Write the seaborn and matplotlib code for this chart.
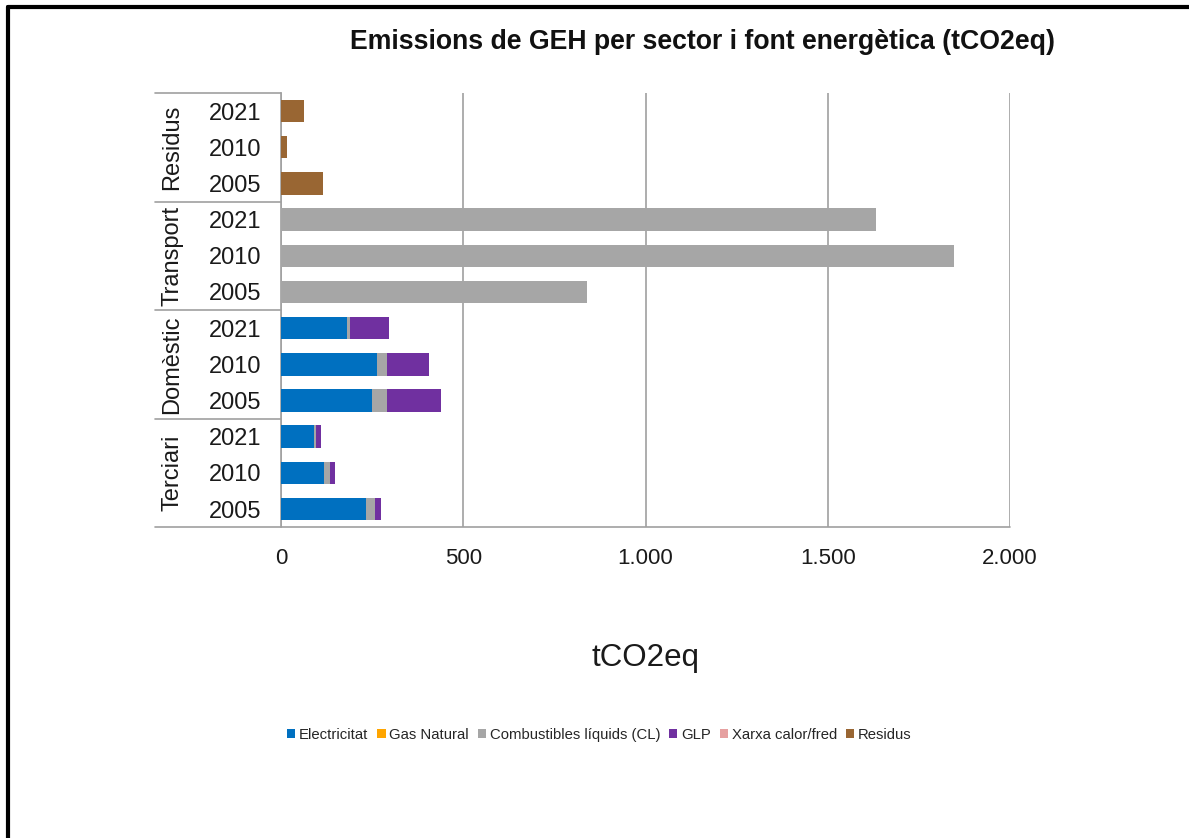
import matplotlib
matplotlib.use("Agg")
import matplotlib.pyplot as plt
import matplotlib.ticker as mticker
from matplotlib.lines import Line2D
from matplotlib.patches import Patch
import seaborn as sns
import pandas as pd
import numpy as np

# ---- data (top-to-bottom order) ----
sectors = ["Residus", "Transport", "Domèstic", "Terciari"]
years = ["2021", "2010", "2005"]
electricitat = [0, 0, 0, 0, 0, 0, 180, 264, 250, 91, 117, 233]
gas_natural = [0, 0, 0, 0, 0, 0, 0, 0, 0, 0, 0, 0]
combustibles_liquids = [0, 0, 0, 1632, 1846, 839, 10, 28, 42, 4, 17, 24]
glp = [0, 0, 0, 0, 0, 0, 105, 115, 148, 14, 14, 17]
xarxa = [0, 0, 0, 0, 0, 0, 0, 0, 0, 0, 0, 0]
residus = [63, 17, 116, 0, 0, 0, 0, 0, 0, 0, 0, 0]

series_names = ["Electricitat", "Gas Natural", "Combustibles líquids (CL)", "GLP",
                "Xarxa calor/fred", "Residus"]
series_values = [electricitat, gas_natural, combustibles_liquids, glp, xarxa, residus]
colors = ["#0070C0", "#FFA500", "#A6A6A6", "#7030A0", "#E6A0A0", "#996633"]
xticks = [0, 500, 1000, 1500, 2000]

rows = [f"{s} {y}" for s in sectors for y in years]
df = pd.DataFrame({"row": rows})
cum = np.zeros(len(rows))
for n, v in zip(series_names, series_values):
    cum = cum + np.array(v, dtype=float)
    df[n] = cum.copy()

sns.set_theme(style="white")
plt.rcParams["font.family"] = ["Liberation Sans", "DejaVu Sans"]

fig = plt.figure(figsize=(11.89, 8.38), dpi=100)
ax = fig.add_axes([0.2363, 0.371, 0.6132, 0.518])

for n, c in reversed(list(zip(series_names, colors))):
    sns.barplot(data=df, x=n, y="row", order=rows, orient="h", color=c,
                width=0.62, saturation=1, ax=ax, zorder=3, linewidth=0,
                edgecolor="none")

ax.set_xlim(0, 2000)
ax.set_xticks(xticks)
ax.xaxis.set_major_formatter(mticker.FuncFormatter(lambda v, p: f"{int(v):,}".replace(",", ".")))
ax.set_yticks(range(len(rows)))
ax.set_yticklabels([y for s in sectors for y in years])
ax.tick_params(axis="y", labelsize=17, pad=14, length=0)
ax.tick_params(axis="x", labelsize=16, pad=15, length=0)
for t in ax.get_xticklabels() + ax.get_yticklabels():
    t.set_color("#1a1a1a")
ax.set_ylabel("")
ax.set_xlabel("tCO2eq", fontsize=22.5, labelpad=53, color="#1a1a1a")
ax.grid(axis="x", color="#A0A0A0", linewidth=1.2, zorder=0)
ax.set_axisbelow(True)
for sp in ["top", "right", "bottom"]:
    ax.spines[sp].set_visible(False)
ax.spines["left"].set_color("#A0A0A0")
ax.spines["left"].set_linewidth(1.2)
ax.set_ylim(len(rows) - 0.5, -0.5)

# group separators and group labels
trans = matplotlib.transforms.blended_transform_factory(ax.transAxes, ax.transData)
xl = -0.173
for b in [-0.5, 2.5, 5.5, 8.5]:
    ax.plot([xl, 0], [b, b], transform=trans, color="#A0A0A0", lw=1.2, clip_on=False)
ax.plot([xl, 1], [11.5, 11.5], transform=trans, color="#A0A0A0", lw=1.2, clip_on=False)
for i, s in enumerate(sectors):
    ax.text(-0.149, i * 3 + 1, s, transform=trans, rotation=90, ha="center",
            va="center", fontsize=17, color="#1a1a1a")

fig.text(0.591, 0.950, "Emissions de GEH per sector i font energètica (tCO2eq)",
         ha="center", va="center", fontsize=19.2, fontweight="bold", color="#111111")

handles = [Patch(facecolor=c, edgecolor="none") for c in colors]
fig.legend(handles, series_names, loc="center", bbox_to_anchor=(0.504, 0.123),
           ncol=6, frameon=False, fontsize=10.7, handlelength=0.55, handleheight=0.55,
           handletextpad=0.25, columnspacing=0.6)

# outer frame (top and left edges visible)
fig.add_artist(Line2D([0.0067, 1.0], [0.9917, 0.9917], color="black", lw=3, transform=fig.transFigure))
fig.add_artist(Line2D([0.0067, 0.0067], [0.0, 0.9917], color="black", lw=3, transform=fig.transFigure))

fig.savefig("out.png", dpi=100)
